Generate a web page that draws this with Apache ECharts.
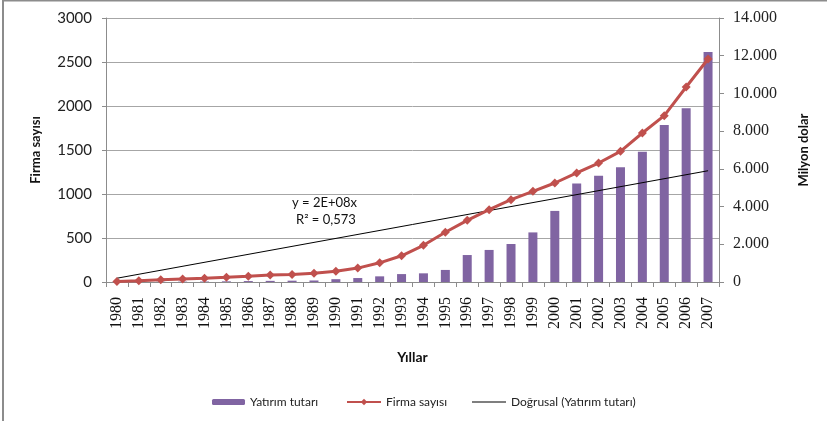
<!DOCTYPE html>
<html>
<head>
<meta charset="utf-8">
<script src="https://cdn.jsdelivr.net/npm/echarts@6/dist/echarts.min.js"></script>
<style>
html,body{margin:0;padding:0;background:#fff;}
#c{width:827px;height:421px;}
</style>
</head>
<body>
<div id="c"></div>
<script>
const years = ['1980','1981','1982','1983','1984','1985','1986','1987','1988','1989','1990','1991','1992','1993','1994','1995','1996','1997','1998','1999','2000','2001','2002','2003','2004','2005','2006','2007'];
// Yatırım tutarı (Milyon dolar) - right axis
const yatirim = [10,10,15,20,25,35,50,60,70,80,150,210,300,420,460,640,1430,1700,2015,2630,3770,5220,5640,6080,6910,8330,9210,12200];
// Firma sayısı - left axis
const firma = [5,15,26,34,42,53,66,80,85,100,121,158,218,298,417,565,701,822,935,1030,1125,1239,1352,1485,1693,1890,2216,2534];
// Doğrusal (Yatırım tutarı) trend line endpoints
const trendEnds = [200, 5900];
const leftTicks = [0,500,1000,1500,2000,2500,3000];
const rightTicks = [0,2000,4000,6000,8000,10000,12000,14000];

const trend = years.map((y,i)=> i===0 ? trendEnds[0] : (i===years.length-1 ? trendEnds[1] : null));

const chart = echarts.init(document.getElementById('c'), null, {renderer:'canvas'});
const axisGray = '#8c8c8c';
chart.setOption({
  animation:false,
  backgroundColor:'#fff',
  grid:{left:106, right:108, top:18, bottom:139, containLabel:false},
  legend:[
    {data:['Yatırım tutarı'], left:207, top:391, itemWidth:33, itemHeight:6, itemGap:5,
     textStyle:{fontFamily:'Lato', fontSize:12, color:'#222'}},
    {data:['Firma sayısı'], left:341, top:391, itemWidth:34, itemHeight:8,
     textStyle:{fontFamily:'Lato', fontSize:12, color:'#222'}},
    {data:[{name:'Doğrusal (Yatırım tutarı)', icon:'rect'}], left:467, top:391, itemWidth:34, itemHeight:1,
     textStyle:{fontFamily:'Lato', fontSize:12, color:'#222', padding:[0,0,0,0]}}
  ],
  xAxis:{
    type:'category', data:years, boundaryGap:true,
    name:'Yıllar', nameLocation:'middle', nameGap:68,
    nameTextStyle:{fontFamily:'Lato', fontWeight:'bold', fontSize:14, color:'#111'},
    axisLine:{lineStyle:{color:axisGray}},
    axisTick:{show:true, length:5, lineStyle:{color:axisGray}},
    axisLabel:{rotate:90, interval:0, margin:15, fontFamily:'Liberation Serif', fontSize:16, color:'#111'}
  },
  yAxis:[
    {type:'value', min:leftTicks[0], max:leftTicks[leftTicks.length-1], interval:500, position:'left',
     name:'Firma sayısı', nameLocation:'middle', nameGap:64, nameRotate:90,
     nameTextStyle:{fontFamily:'Lato', fontWeight:'bold', fontSize:13, color:'#111'},
     axisLine:{show:true, lineStyle:{color:axisGray}},
     axisTick:{show:true, length:4, lineStyle:{color:axisGray}},
     axisLabel:{margin:14, fontFamily:'Lato', fontSize:15, color:'#222', formatter:v=>String(v)},
     splitLine:{show:true, lineStyle:{color:'#a6a6a6', width:1}}
    },
    {type:'value', min:rightTicks[0], max:rightTicks[rightTicks.length-1], interval:2000, position:'right',
     name:'Milyon dolar', nameLocation:'middle', nameGap:78, nameRotate:90,
     nameTextStyle:{fontFamily:'Lato', fontWeight:'bold', fontSize:13, color:'#111'},
     axisLine:{show:true, lineStyle:{color:axisGray}},
     axisTick:{show:true, length:5, lineStyle:{color:axisGray}},
     axisLabel:{margin:14, fontFamily:'Liberation Serif', fontSize:16, color:'#222',
       formatter:v=> v===0 ? '0' : (v/1000).toFixed(3)},
     splitLine:{show:false}
    }
  ],
  series:[
    {name:'Yatırım tutarı', type:'bar', yAxisIndex:1, data:yatirim, barWidth:9,
     itemStyle:{color:'#8064A2'}, z:1},
    {name:'Doğrusal (Yatırım tutarı)', type:'line', yAxisIndex:1, data:trend, connectNulls:true,
     symbol:'none', lineStyle:{color:'#000', width:1}, itemStyle:{color:'#000'}, z:2},
    {name:'Firma sayısı', type:'line', yAxisIndex:0, data:firma, symbol:'diamond', symbolSize:9,
     lineStyle:{color:'#C0504D', width:3}, itemStyle:{color:'#C0504D'}, z:3}
  ],
  graphic:[
    {type:'rect', shape:{x:3, y:0.5, width:1000, height:1000}, style:{fill:'none', stroke:'#8c8c8c', lineWidth:2}, silent:true},
    {type:'text', left:292, top:196, style:{text:'y = 2E+08x', fontFamily:'Lato', fontSize:13, fill:'#111'}},
    {type:'text', left:296, top:213, style:{text:'R² = 0,573', fontFamily:'Lato', fontSize:13, fill:'#111'}}
  ]
});
</script>
</body>
</html>
